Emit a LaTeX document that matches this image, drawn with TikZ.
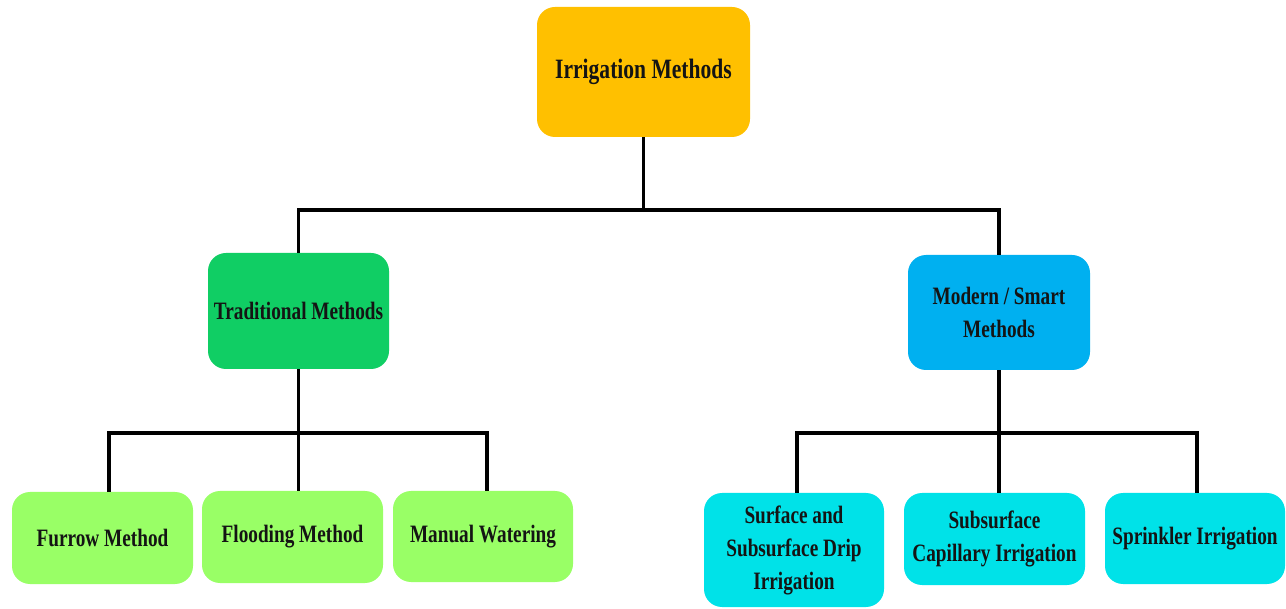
\documentclass[tikz,border=0pt]{standalone}
\usepackage{fontspec}
\setmainfont{Liberation Serif}[FakeStretch=0.77]
\definecolor{rootc}{RGB}{255,192,0}
\definecolor{tradc}{RGB}{16,206,100}
\definecolor{modc}{RGB}{0,176,240}
\definecolor{leafg}{RGB}{153,255,102}
\definecolor{leafc}{RGB}{0,226,232}
\definecolor{txt}{RGB}{20,20,20}
\tikzset{
  box/.style={rectangle, rounded corners=18pt, inner sep=0pt, align=center,
    text=txt, font=\bfseries\fontsize{25}{33}\selectfont},
  conn/.style={line width=3.5pt, draw=black, line join=miter, line cap=butt}
}
\begin{document}
\begin{tikzpicture}[x=1pt,y=-1pt]
\useasboundingbox[fill=white] (0,0) rectangle (1286,609);
% connectors first
\coordinate (b1) at (643.5,210);
\coordinate (tl) at (109,433);
\coordinate (tr) at (487,433);
\coordinate (ml) at (797,433);
\coordinate (mr) at (1197,433);
% nodes
\node[box, fill=rootc, minimum width=213pt, minimum height=130pt,
  font=\bfseries\fontsize{28}{34}\selectfont] (root) at (643.5,72) {Irrigation Methods};
\node[box, fill=tradc, minimum width=181pt, minimum height=116pt] (trad) at (298.5,311) {Traditional Methods};
\node[box, fill=modc, minimum width=182pt, minimum height=115pt] (mod) at (999,312.5) {Modern / Smart\\Methods};
\node[box, fill=leafg, minimum width=181pt, minimum height=92pt] (furrow) at (102.5,538) {Furrow Method};
\node[box, fill=leafg, minimum width=181pt, minimum height=92pt] (flood) at (292.5,537) {Flooding Method};
\node[box, fill=leafg, minimum width=180pt, minimum height=91pt] (manual) at (483,536.5) {Manual Watering};
\node[box, fill=leafc, minimum width=180pt, minimum height=114pt] (drip) at (794,550) {Surface and\\Subsurface Drip\\Irrigation};
\node[box, fill=leafc, minimum width=181pt, minimum height=92pt] (cap) at (994.5,539) {Subsurface\\Capillary Irrigation};
\node[box, fill=leafc, minimum width=180pt, minimum height=91pt] (spr) at (1195,538.5) {Sprinkler Irrigation};
% top level
\draw[conn] (root.south) -- (b1);
\draw[conn] (trad.north) -- (trad.north |- b1) -- (mod.north |- b1) -- (mod.north);
% traditional branch
\draw[conn] (trad.south) -- (trad.south |- tl);
\draw[conn] (tl |- furrow.north) -- (tl) -- (tr) -- (tr |- manual.north);
\draw[conn] (trad.south |- tl) -- (trad.south |- flood.north);
% modern branch
\draw[conn] (mod.south) -- (mod.south |- ml);
\draw[conn] (ml |- drip.north) -- (ml) -- (mr) -- (mr |- spr.north);
\draw[conn] (mod.south |- ml) -- (mod.south |- cap.north);
\end{tikzpicture}
\end{document}
